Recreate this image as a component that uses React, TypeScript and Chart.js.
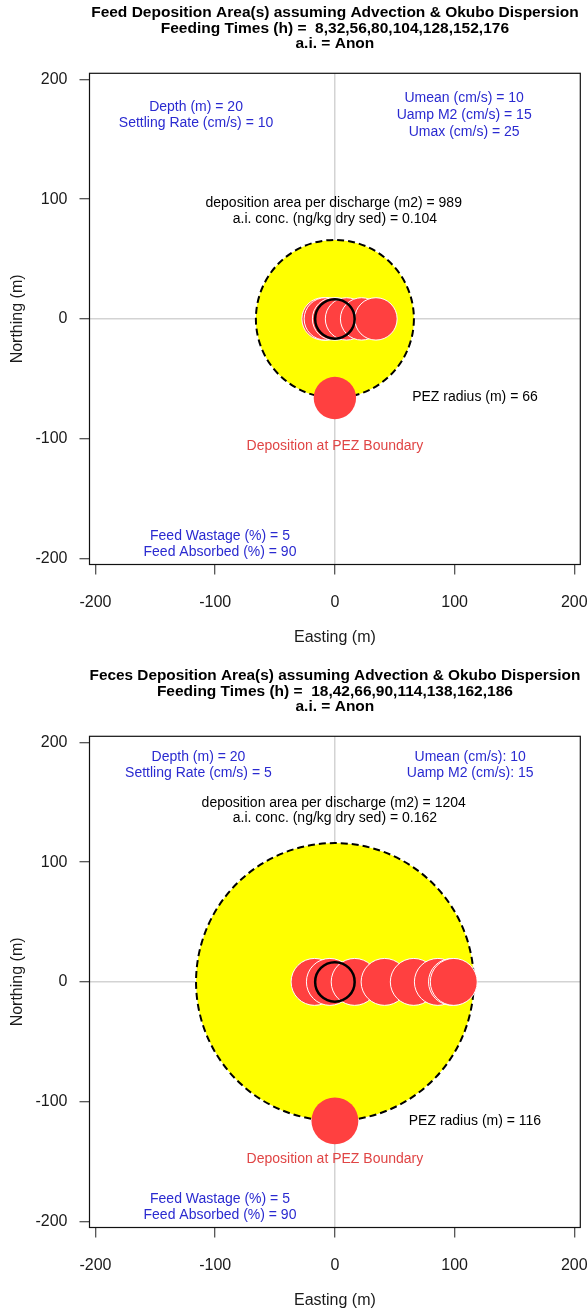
import React, { useEffect, useRef } from 'react';
import { Chart, registerables } from 'chart.js';

Chart.register(...registerables);

// ---------- shared axis data ----------
const X_TICKS = [-200, -100, 0, 100, 200];
const Y_TICKS = [-200, -100, 0, 100, 200];
const AXIS_MIN = -205;
const AXIS_MAX = 205;
const CAGE_X = [0];
const CAGE_Y = [0];
const CAGE_RADIUS = 16.5;

// ---------- Feed panel ----------
const FEED_TITLE = [
  'Feed Deposition Area(s) assuming Advection & Okubo Dispersion',
  'Feeding Times (h) =  8,32,56,80,104,128,152,176',
  'a.i. = Anon',
];
const FEED_PEZ_RADIUS = 66;
const FEED_DEP_RADIUS = 17.7;
const FEED_DEP_X = [1.5, -6.6, -9.9, -8.0, -1.1, 9.7, 22.3, 34.3];
const FEED_DEP_Y = [0, 0, 0, 0, 0, 0, 0, 0];
const FEED_BOUND_X = [0];
const FEED_BOUND_Y = [-66];

// ---------- Feces panel ----------
const FECES_TITLE = [
  'Feces Deposition Area(s) assuming Advection & Okubo Dispersion',
  'Feeding Times (h) =  18,42,66,90,114,138,162,186',
  'a.i. = Anon',
];
const FECES_PEZ_RADIUS = 116;
const FECES_DEP_RADIUS = 19.6;
const FECES_DEP_X = [-17, -4.2, 16.5, 41.5, 65.9, 86, 97.8, 99.3];
const FECES_DEP_Y = [0, 0, 0, 0, 0, 0, 0, 0];
const FECES_BOUND_X = [0];
const FECES_BOUND_Y = [-116];

// ---------- styling ----------
const FONT = '"Liberation Sans", Arial, Helvetica, sans-serif';
const BLUE = '#2a2ad0';
const RED_TXT = '#e04545';
const BLACK = '#000000';
const RED_FILL = '#ff4040';

type Note = { text: string; x: number; y: number; color: string };

const FEED_NOTES: Note[] = [
  { text: 'Depth (m) = 20', x: -116, y: 176.5, color: BLUE },
  { text: 'Settling Rate (cm/s) = 10', x: -116, y: 163.5, color: BLUE },
  { text: 'Umean (cm/s) = 10', x: 108, y: 184, color: BLUE },
  { text: 'Uamp M2 (cm/s) = 15', x: 108, y: 170, color: BLUE },
  { text: 'Umax (cm/s) = 25', x: 108, y: 156, color: BLUE },
  { text: 'deposition area per discharge (m2) = 989', x: -1, y: 96.5, color: BLACK },
  { text: 'a.i. conc. (ng/kg dry sed) = 0.104', x: 0, y: 83, color: BLACK },
  { text: 'PEZ radius (m) = 66', x: 117, y: -65.5, color: BLACK },
  { text: 'Deposition at PEZ Boundary', x: 0, y: -106.5, color: RED_TXT },
  { text: 'Feed Wastage (%) = 5', x: -96, y: -181.5, color: BLUE },
  { text: 'Feed Absorbed (%) = 90', x: -96, y: -194.5, color: BLUE },
];

const FECES_NOTES: Note[] = [
  { text: 'Depth (m) = 20', x: -114, y: 187.5, color: BLUE },
  { text: 'Settling Rate (cm/s) = 5', x: -114, y: 174, color: BLUE },
  { text: 'Umean (cm/s): 10', x: 113, y: 187.5, color: BLUE },
  { text: 'Uamp M2 (cm/s): 15', x: 113, y: 174, color: BLUE },
  { text: 'deposition area per discharge (m2) = 1204', x: -1, y: 149, color: BLACK },
  { text: 'a.i. conc. (ng/kg dry sed) = 0.162', x: 0, y: 136.5, color: BLACK },
  { text: 'PEZ radius (m) = 116', x: 117, y: -116, color: BLACK },
  { text: 'Deposition at PEZ Boundary', x: 0, y: -147.8, color: RED_TXT },
  { text: 'Feed Wastage (%) = 5', x: -96, y: -181, color: BLUE },
  { text: 'Feed Absorbed (%) = 90', x: -96, y: -194.5, color: BLUE },
];

type Panel = {
  title: string[];
  pezR: number;
  depR: number;
  depX: number[];
  depY: number[];
  boundX: number[];
  boundY: number[];
  notes: Note[];
  padTop: number;
  padBottom: number;
};

const FEED: Panel = {
  title: FEED_TITLE, pezR: FEED_PEZ_RADIUS, depR: FEED_DEP_RADIUS,
  depX: FEED_DEP_X, depY: FEED_DEP_Y, boundX: FEED_BOUND_X, boundY: FEED_BOUND_Y,
  notes: FEED_NOTES, padTop: 0, padBottom: 8,
};
const FECES: Panel = {
  title: FECES_TITLE, pezR: FECES_PEZ_RADIUS, depR: FECES_DEP_RADIUS,
  depX: FECES_DEP_X, depY: FECES_DEP_Y, boundX: FECES_BOUND_X, boundY: FECES_BOUND_Y,
  notes: FECES_NOTES, padTop: 8, padBottom: 0,
};

const W = 587;
const H = 655;

const pts = (xs: number[], ys: number[]) => xs.map((x, i) => ({ x, y: ys[i] }));
const pxRadius = (r: number) => (ctx: any) => {
  const s = ctx.chart.scales.x;
  return Math.abs(s.getPixelForValue(r) - s.getPixelForValue(0));
};

function makeOverlay(notes: Note[]) {
  return {
    id: 'overlay',
    beforeDatasetDraw(chart: any, args: any) {
      const ds = chart.data.datasets[args.index];
      if (ds.dash) {
        chart.ctx.save();
        chart.ctx.setLineDash(ds.dash);
      }
    },
    afterDatasetDraw(chart: any, args: any) {
      const ds = chart.data.datasets[args.index];
      if (ds.dash) chart.ctx.restore();
    },
    afterDatasetsDraw(chart: any) {
      const { ctx, chartArea: a, scales } = chart;
      ctx.save();
      ctx.font = `14px ${FONT}`;
      ctx.textAlign = 'center';
      ctx.textBaseline = 'middle';
      for (const n of notes) {
        ctx.fillStyle = n.color;
        ctx.fillText(n.text, scales.x.getPixelForValue(n.x), scales.y.getPixelForValue(n.y));
      }
      ctx.strokeStyle = '#111';
      ctx.lineWidth = 1.2;
      ctx.strokeRect(a.left, a.top, a.right - a.left, a.bottom - a.top);
      ctx.restore();
    },
  };
}

function axis(titleText: string, ticks: number[], isX: boolean) {
  return {
    type: 'linear',
    min: AXIS_MIN,
    max: AXIS_MAX,
    afterBuildTicks: (s: any) => {
      s.ticks = ticks.map((v) => ({ value: v }));
    },
    afterFit: (s: any) => {
      if (isX) {
        s.height = 82.5;
      } else {
        s.width = 89.5;
      }
      s.paddingLeft = 0;
      s.paddingRight = 0;
      s.paddingTop = 0;
      s.paddingBottom = 0;
    },
    border: { display: false },
    grid: {
      color: (c: any) => (c.tick && c.tick.value === 0 ? '#d3d3d3' : 'rgba(0,0,0,0)'),
      lineWidth: 1.5,
      drawTicks: true,
      tickLength: 10,
      tickColor: '#222',
      tickWidth: 1,
    },
    ticks: {
      color: '#1a1a1a',
      font: { family: FONT, size: 16 },
      padding: isX ? 18 : 12,
      maxRotation: 0,
      minRotation: 0,
      autoSkip: false,
    },
    title: {
      display: true,
      text: titleText,
      color: '#1a1a1a',
      font: { family: FONT, size: 16 },
      padding: isX ? { top: 0, bottom: 0 } : { top: 8.4, bottom: 0 },
    },
  };
}

function buildConfig(p: Panel): any {
  return {
    type: 'scatter',
    data: {
      datasets: [
        {
          label: 'cage',
          data: pts(CAGE_X, CAGE_Y),
          pointRadius: pxRadius(CAGE_RADIUS),
          pointBackgroundColor: 'rgba(0,0,0,0)',
          pointBorderColor: '#000',
          pointBorderWidth: 2.5,
          order: 1,
        },
        {
          label: 'boundary deposition',
          data: pts(p.boundX, p.boundY),
          pointRadius: pxRadius(p.depR),
          pointBackgroundColor: RED_FILL,
          pointBorderColor: RED_FILL,
          pointBorderWidth: 0,
          order: 2,
        },
        {
          label: 'deposition',
          data: pts(p.depX, p.depY),
          pointRadius: pxRadius(p.depR),
          pointBackgroundColor: RED_FILL,
          pointBorderColor: '#ffffff',
          pointBorderWidth: 1,
          order: 3,
        },
        {
          label: 'PEZ',
          data: [{ x: 0, y: 0 }],
          pointRadius: pxRadius(p.pezR),
          pointBackgroundColor: '#ffff00',
          pointBorderColor: '#000',
          pointBorderWidth: 2,
          dash: [7, 4],
          order: 4,
        },
      ],
    },
    options: {
      responsive: false,
      animation: false,
      events: [],
      devicePixelRatio: 1,
      layout: {
        autoPadding: false,
        padding: { left: 0, right: 6.7, top: p.padTop, bottom: p.padBottom },
      },
      plugins: {
        legend: { display: false },
        tooltip: { enabled: false },
        title: {
          display: true,
          text: p.title,
          fullSize: false,
          color: '#000',
          font: { family: FONT, size: 15.5, weight: 'bold', lineHeight: 1 },
          padding: { top: 5.25, bottom: 21.55 },
        },
      },
      scales: {
        x: axis('Easting (m)', X_TICKS, true),
        y: axis('Northing (m)', Y_TICKS, false),
      },
    },
    plugins: [makeOverlay(p.notes)],
  };
}

function PanelChart({ panel, top }: { panel: Panel; top: number }) {
  const ref = useRef<HTMLCanvasElement>(null);
  useEffect(() => {
    const chart = new Chart(ref.current as HTMLCanvasElement, buildConfig(panel));
    return () => chart.destroy();
  }, [panel]);
  return (
    <canvas
      ref={ref}
      width={W}
      height={H}
      style={{ position: 'absolute', left: 0, top, width: W, height: H, display: 'block' }}
    />
  );
}

export default function App() {
  return (
    <div
      style={{
        position: 'absolute',
        left: 0,
        top: 0,
        width: W,
        height: 1310,
        background: '#ffffff',
        overflow: 'hidden',
      }}
    >
      <PanelChart panel={FEED} top={0} />
      <PanelChart panel={FECES} top={655} />
    </div>
  );
}
